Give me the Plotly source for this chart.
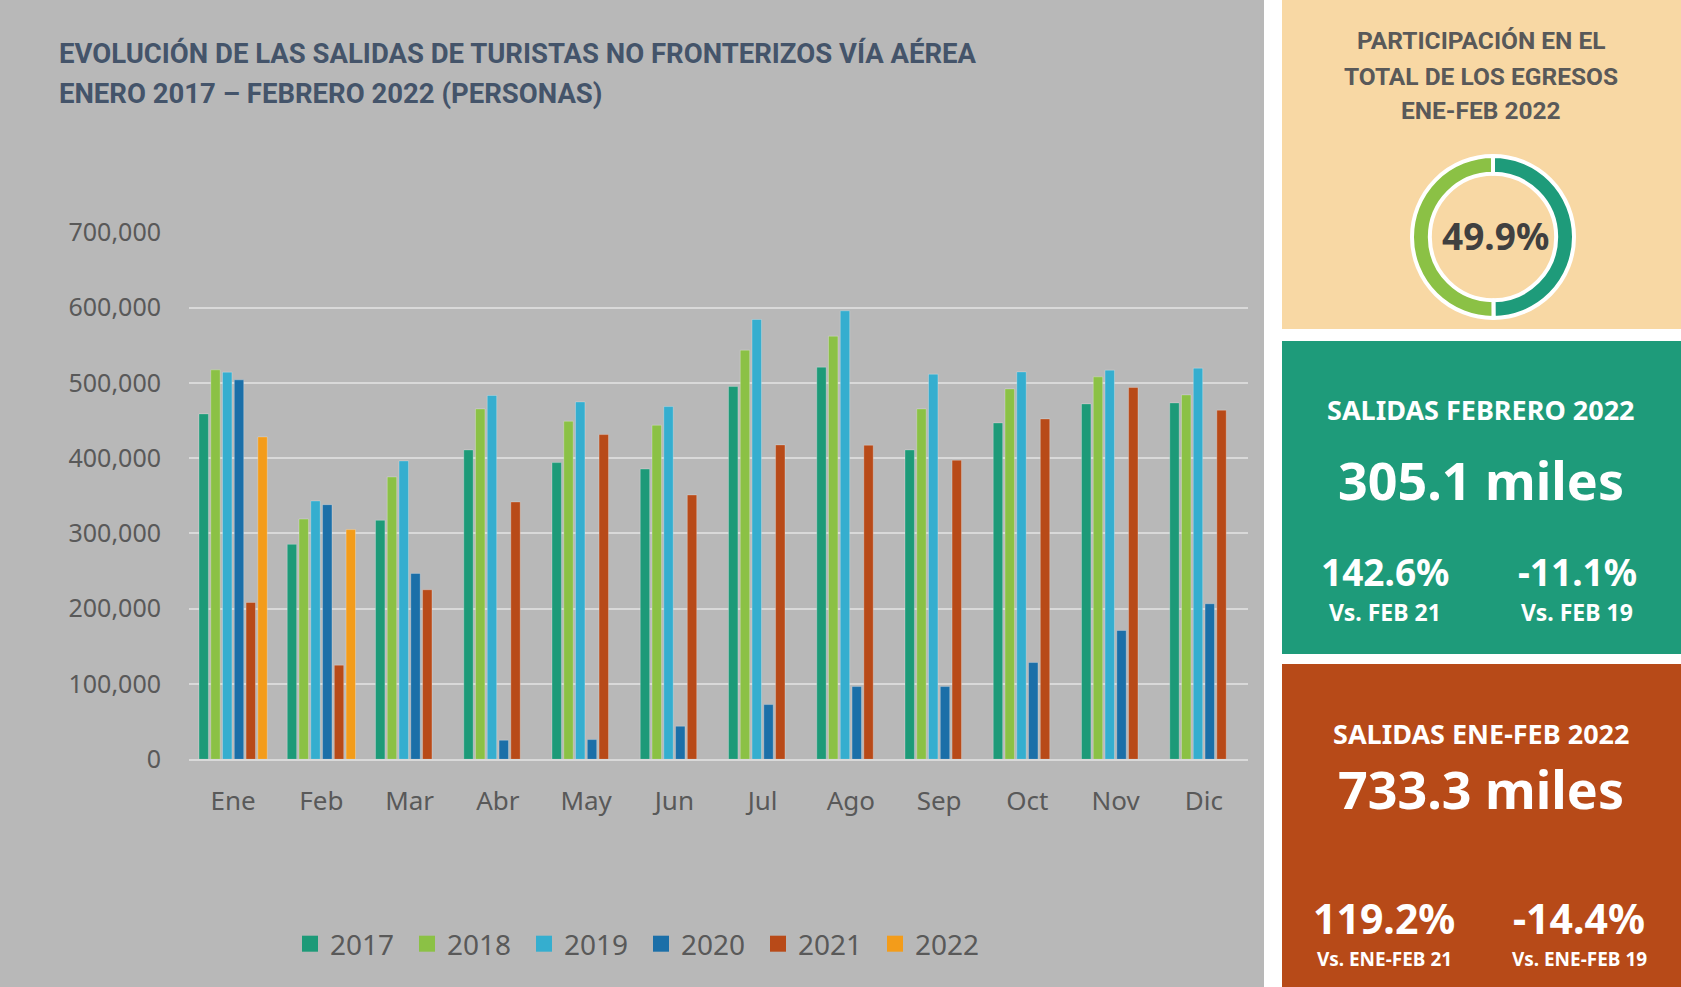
import plotly.graph_objects as go

# Monthly departures of non-border tourists by air (persons)
months = ["Ene", "Feb", "Mar", "Abr", "May", "Jun", "Jul", "Ago", "Sep", "Oct", "Nov", "Dic"]
years = ["2017", "2018", "2019", "2020", "2021", "2022"]

v2017 = [458800, 285500, 317400, 410900, 394100, 385600, 495100, 520800, 410900, 446800, 472100, 473400]
v2018 = [517300, 319100, 375000, 465400, 449000, 443700, 543400, 562000, 465400, 492000, 508000, 484000]
v2019 = [514200, 343100, 396300, 483200, 474700, 468500, 584200, 595700, 511500, 514600, 516800, 519500]
v2020 = [504000, 338200, 246900, 25300, 26200, 43900, 72700, 96600, 96600, 128500, 171100, 206600]
v2021 = [208300, 125000, 225200, 341800, 431300, 351100, 417600, 417100, 397200, 452100, 493800, 463700]
v2022 = [428200, 305100, None, None, None, None, None, None, None, None, None, None]
series = [v2017, v2018, v2019, v2020, v2021, v2022]
colors = ["#1d9a78", "#8bc145", "#35aecf", "#1b6fa8", "#b84a18", "#f39c1a"]

y_ticks = [0, 100000, 200000, 300000, 400000, 500000, 600000, 700000]
y_tick_text = ["0", "100,000", "200,000", "300,000", "400,000", "500,000", "600,000", "700,000"]

# Side indicators
share_pct = 49.9
feb_total = "305.1 miles"
feb_vs21, feb_vs19 = "142.6%", "-11.1%"
ytd_total = "733.3 miles"
ytd_vs21, ytd_vs19 = "119.2%", "-14.4%"

W, H = 1681, 987


def px(x):
    return x / W


def py(y):
    return (H - y) / H


fig = go.Figure()

for name, vals, col in zip(years, series, colors):
    fig.add_trace(go.Bar(
        x=months, y=vals, name=name, showlegend=False,
        marker=dict(color=col, line=dict(color="rgba(255,255,255,0.25)", width=1)),
        hoverinfo="x+y+name",
    ))

# Legend keys drawn as larger square markers
for name, col in zip(years, colors):
    fig.add_trace(go.Scatter(
        x=[None], y=[None], name=name, mode="markers",
        marker=dict(symbol="square", size=16, color=col),
        showlegend=True, hoverinfo="skip",
    ))

# Doughnut of the Jan-Feb share
fig.add_trace(go.Pie(
    values=[share_pct, 100 - share_pct],
    marker=dict(colors=["#1e9b7a", "#8bc145"], line=dict(color="white", width=4)),
    hole=0.78, sort=False, direction="clockwise", rotation=0,
    textinfo="none", showlegend=False, hoverinfo="skip",
    domain=dict(x=[px(1493 - 81), px(1493 + 81)], y=[py(237 + 81), py(237 - 81)]),
))

shapes = [
    dict(type="rect", xref="paper", yref="paper", x0=0, x1=px(1264), y0=0, y1=1,
         fillcolor="#b8b8b8", line=dict(width=0), layer="below"),
    dict(type="rect", xref="paper", yref="paper", x0=px(1282), x1=1, y0=py(329), y1=1,
         fillcolor="#f8d8a4", line=dict(width=0), layer="below"),
    dict(type="rect", xref="paper", yref="paper", x0=px(1282), x1=1, y0=py(654), y1=py(341),
         fillcolor="#1e9b7a", line=dict(width=0), layer="below"),
    dict(type="rect", xref="paper", yref="paper", x0=px(1282), x1=1, y0=0, y1=py(664),
         fillcolor="#b74a18", line=dict(width=0), layer="below"),
]

title_font = dict(family="Roboto", size=27.5, color="#44546a")
head_font = dict(family="Roboto", size=24.5, color="#595959")
calc = "Noto Sans"

annotations = [
    dict(text="<b>EVOLUCIÓN DE LAS SALIDAS DE TURISTAS NO FRONTERIZOS VÍA AÉREA</b>",
         x=px(57), y=py(53), xanchor="left", yanchor="middle", font=title_font),
    dict(text="<b>ENERO 2017 – FEBRERO 2022 (PERSONAS)</b>",
         x=px(57), y=py(93), xanchor="left", yanchor="middle", font=title_font),
    dict(text="<b>PARTICIPACIÓN EN EL</b>", x=px(1481), y=py(40), font=head_font),
    dict(text="<b>TOTAL DE LOS EGRESOS</b>", x=px(1481), y=py(76), font=head_font),
    dict(text="<b>ENE-FEB 2022</b>", x=px(1481), y=py(111), font=head_font),
    dict(text=f"<b>{share_pct:.1f}%</b>", x=px(1495), y=py(235),
         font=dict(family=calc, size=37, color="#404040")),
    dict(text="<b>SALIDAS FEBRERO 2022</b>", x=px(1481), y=py(410),
         font=dict(family=calc, size=27, color="white")),
    dict(text=f"<b>{feb_total}</b>", x=px(1481), y=py(480),
         font=dict(family=calc, size=52, color="white")),
    dict(text=f"<b>{feb_vs21}</b>", x=px(1385), y=py(571),
         font=dict(family=calc, size=37, color="white")),
    dict(text=f"<b>{feb_vs19}</b>", x=px(1577), y=py(571),
         font=dict(family=calc, size=37, color="white")),
    dict(text="<b>Vs. FEB 21</b>", x=px(1385), y=py(612),
         font=dict(family=calc, size=23, color="white")),
    dict(text="<b>Vs. FEB 19</b>", x=px(1577), y=py(612),
         font=dict(family=calc, size=23, color="white")),
    dict(text="<b>SALIDAS ENE-FEB 2022</b>", x=px(1481), y=py(733),
         font=dict(family=calc, size=27, color="white")),
    dict(text=f"<b>{ytd_total}</b>", x=px(1481), y=py(788),
         font=dict(family=calc, size=52, color="white")),
    dict(text=f"<b>{ytd_vs21}</b>", x=px(1384), y=py(918),
         font=dict(family=calc, size=41, color="white")),
    dict(text=f"<b>{ytd_vs19}</b>", x=px(1579), y=py(918),
         font=dict(family=calc, size=41, color="white")),
    dict(text="<b>Vs. ENE-FEB 21</b>", x=px(1384), y=py(959),
         font=dict(family=calc, size=19, color="white")),
    dict(text="<b>Vs. ENE-FEB 19</b>", x=px(1579), y=py(959),
         font=dict(family=calc, size=19, color="white")),
]
for a in annotations:
    a.setdefault("xref", "paper")
    a.setdefault("yref", "paper")
    a.setdefault("showarrow", False)
    a.setdefault("xanchor", "center")
    a.setdefault("yanchor", "middle")

fig.update_layout(
    width=W, height=H, autosize=False,
    margin=dict(l=0, r=0, t=0, b=0, pad=0, autoexpand=False),
    paper_bgcolor="white", plot_bgcolor="rgba(0,0,0,0)",
    barmode="group", bargap=0.2, bargroupgap=0.2,
    shapes=shapes, annotations=annotations,
    font=dict(family=calc, color="#595959"),
    legend=dict(orientation="h", x=px(290), y=py(944), xanchor="left", yanchor="middle",
                entrywidth=72, entrywidthmode="pixels",
                font=dict(family=calc, size=28, color="#595959"),
                bgcolor="rgba(0,0,0,0)", itemclick=False, itemdoubleclick=False),
    xaxis=dict(domain=[px(189), px(1248)], showgrid=False, showline=True, automargin=False,
               linecolor="#d9d9d9", linewidth=2, ticks="", ticklabelstandoff=17,
               tickfont=dict(family=calc, size=26, color="#595959"), fixedrange=True),
    yaxis=dict(domain=[py(759.3), py(232.3)], range=[0, 700000], automargin=False,
               tickvals=y_ticks, ticktext=y_tick_text, showgrid=True,
               gridcolor="#d9d9d9", gridwidth=2, zeroline=False, showline=False,
               ticks="", ticklabelstandoff=27,
               tickfont=dict(family=calc, size=25, color="#595959"), fixedrange=True),
)

fig.write_html("out.html", config={"displayModeBar": False})
